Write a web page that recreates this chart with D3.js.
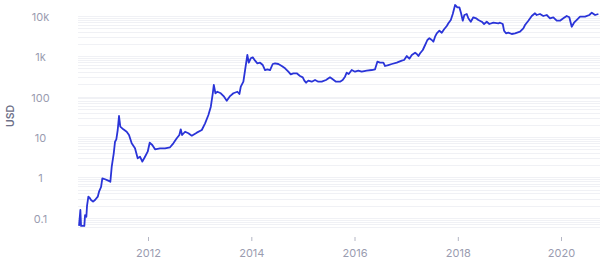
<!DOCTYPE html>
<html><head><meta charset="utf-8">
<script src="https://cdn.jsdelivr.net/npm/d3@7"></script>
<style>
html,body{margin:0;padding:0;background:#fff;}
svg{display:block;font-family:Inter,"Noto Sans",sans-serif;}
</style></head>
<body><svg id="c" width="600" height="261"></svg>
<script>
// decimal year of each observation
const years = [2010.663,2010.689,2010.702,2010.766,2010.780,2010.805,2010.818,2010.844,2010.871,2010.896,2010.935,2010.973,
2011.026,2011.051,2011.090,2011.115,2011.167,2011.231,2011.270,2011.297,2011.336,2011.361,2011.386,2011.413,2011.438,2011.463,
2011.522,2011.587,2011.632,2011.684,2011.748,2011.800,2011.845,2011.890,2011.942,2011.994,2012.033,2012.083,2012.136,
2012.232,2012.329,2012.426,2012.490,2012.556,2012.606,2012.633,2012.659,2012.717,2012.781,2012.846,2012.943,2013.040,2013.104,
2013.168,2013.215,2013.253,2013.273,2013.304,2013.342,2013.408,2013.472,2013.524,2013.588,2013.652,2013.730,2013.769,2013.796,
2013.846,2013.879,2013.923,2013.951,2013.989,2014.028,2014.073,2014.117,2014.170,2014.222,2014.266,2014.311,2014.363,2014.415,
2014.460,2014.524,2014.590,2014.654,2014.718,2014.764,2014.815,2014.880,2014.944,2014.997,2015.028,2015.061,2015.105,2015.171,
2015.235,2015.299,2015.365,2015.448,2015.525,2015.578,2015.642,2015.719,2015.771,2015.816,2015.849,2015.888,2015.946,2016.010,
2016.074,2016.139,2016.236,2016.333,2016.397,2016.442,2016.494,2016.558,2016.591,2016.655,2016.721,2016.817,2016.914,2016.959,
2017.011,2017.061,2017.108,2017.172,2017.205,2017.236,2017.269,2017.321,2017.366,2017.410,2017.449,2017.496,2017.526,2017.559,
2017.592,2017.643,2017.689,2017.734,2017.786,2017.817,2017.864,2017.902,2017.947,2017.991,2018.030,2018.063,2018.096,2018.127,
2018.173,2018.204,2018.251,2018.301,2018.354,2018.398,2018.464,2018.509,2018.561,2018.611,2018.689,2018.786,2018.818,2018.871,
2018.896,2018.934,2018.979,2019.045,2019.109,2019.206,2019.270,2019.303,2019.367,2019.433,2019.496,2019.529,2019.593,2019.657,
2019.723,2019.787,2019.851,2019.917,2019.981,2020.045,2020.110,2020.161,2020.207,2020.252,2020.316,2020.368,2020.465,2020.548,
2020.595,2020.659,2020.723];
// price in USD
const prices = [0.063,0.156,0.063,0.063,0.117,0.106,0.196,0.333,0.309,0.276,0.251,0.276,
0.333,0.443,0.578,0.95,0.90,0.83,0.78,1.84,3.95,7.65,8.77,14.9,33.1,18.0,
15.5,13.5,11.2,6.98,5.25,2.97,3.25,2.45,3.25,4.33,7.22,6.34,4.96,
5.25,5.25,5.56,6.98,9.29,11.2,15.5,11.2,13.5,12.4,10.8,12.8,14.9,21.8,
35.1,56.2,121,194,121,132,121,99.5,79.2,103,121,132,116,176,
234,455,1071,690,887,939,774,667,690,605,455,474,455,641,
667,641,572,501,413,356,377,377,324,300,248,221,248,234,
258,234,234,258,300,268,234,234,258,311,391,362,455,413,
438,413,438,455,474,731,690,690,572,605,641,690,774,805,
1011,867,1071,1222,1133,1011,1180,1424,1893,2518,2774,2518,2285,3039,
3686,4277,3816,4634,5593,6518,7870,11080,18500,16220,16220,11530,7566,10470,
11080,8670,7140,9180,8670,7870,7140,6270,7140,6270,6750,6518,6750,6270,
4277,3686,3816,3545,3686,4040,4906,5920,7566,9890,11530,10470,11080,9890,
10470,8670,9180,7566,7566,8670,9890,9180,5370,6750,8190,9500,9500,10470,
11930,10470,11080];
const yTickValues = [0.1, 1, 10, 100, 1000, 10000];
const yTickLabels = ["0.1", "1", "10", "100", "1k", "10k"];
const xTickYears = [2012, 2014, 2016, 2018, 2020];
const yAxisTitle = "USD";

function toDate(t){
  const y = Math.floor(t);
  const a = Date.UTC(y,0,1), b = Date.UTC(y+1,0,1);
  return new Date(a + (t - y) * (b - a));
}
const data = years.map((t,i)=>({date: toDate(t), value: prices[i]}));

const svg = d3.select("#c");
const x = d3.scaleUtc().domain([toDate(2012), toDate(2020)]).range([148, 561]);
const y = d3.scaleLog().domain([0.1, 10000]).range([217.8, 15.8]);

// gridlines (every minor log step)
const grid = [];
for (let k = -2; k <= 4; k++) for (let m = 1; m <= 9; m++) {
  const v = m * Math.pow(10, k);
  if (v >= 0.06 && v <= 10000.001) grid.push(v);
}
svg.append("g").selectAll("line").data(grid).join("line")
  .attr("x1", 78).attr("x2", 600)
  .attr("y1", d => Math.round(y(d)) + 0.5).attr("y2", d => Math.round(y(d)) + 0.5)
  .attr("stroke", "#f0f1f5").attr("stroke-width", 1);

// y tick labels
svg.append("g").selectAll("text").data(yTickValues).join("text")
  .attr("x", 40.5).attr("y", d => y(d) + 2)
  .attr("text-anchor", "middle").attr("dominant-baseline", "middle")
  .attr("font-size", 11).attr("fill", "#9a9cb0")
  .text((d,i) => yTickLabels[i]);

// y axis title
svg.append("text")
  .attr("transform", "translate(11,116) rotate(-90)")
  .attr("text-anchor", "middle").attr("dominant-baseline", "middle")
  .attr("font-size", 10.5).attr("font-weight", 600).attr("fill", "#6e7088")
  .text(yAxisTitle);

// x axis
const xAxis = d3.axisBottom(x)
  .tickValues(xTickYears.map(toDate))
  .tickSize(4).tickPadding(8)
  .tickFormat(d3.utcFormat("%Y"));
const gx = svg.append("g").attr("transform", "translate(0,237)").call(xAxis);
gx.select(".domain").remove();
gx.selectAll(".tick line").attr("stroke", "#b4b6c4");
gx.selectAll(".tick text").attr("font-size", 11).attr("fill", "#9a9cb0")
  .attr("font-family", "Inter,'Noto Sans',sans-serif");

// price line
const line = d3.line().x(d => x(d.date)).y(d => y(d.value));
svg.append("path").datum(data)
  .attr("d", line).attr("fill", "none")
  .attr("stroke", "#2a34d8").attr("stroke-width", 1.8)
  .attr("stroke-linejoin", "round");
</script></body></html>
